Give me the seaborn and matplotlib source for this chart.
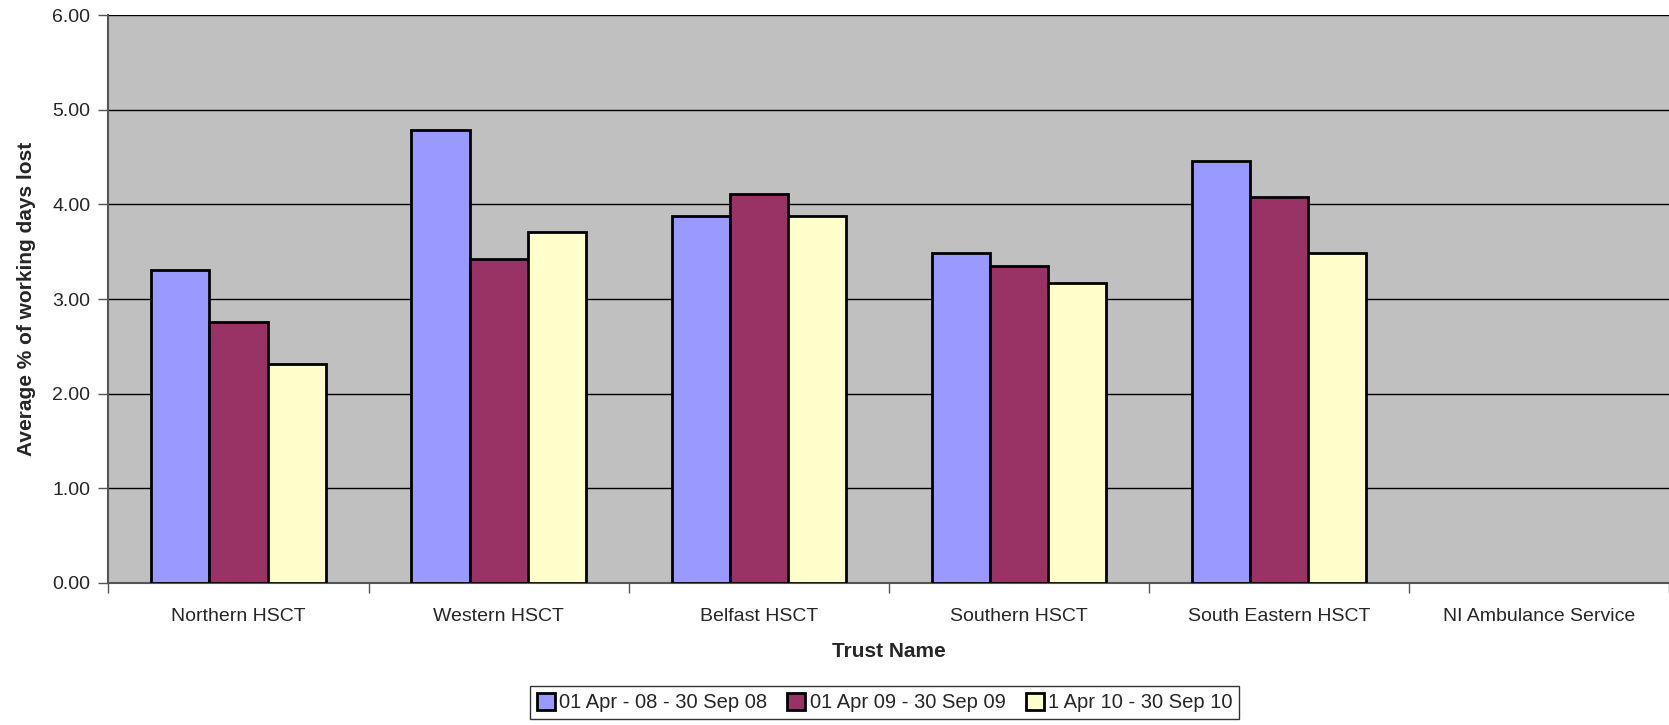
import pandas as pd
import numpy as np
import matplotlib
matplotlib.use('Agg')
import matplotlib.pyplot as plt
import seaborn as sns
from matplotlib.ticker import FixedLocator, FormatStrFormatter

# data
trusts = ['Northern HSCT', 'Western HSCT', 'Belfast HSCT', 'Southern HSCT',
          'South Eastern HSCT', 'NI Ambulance Service']
periods = ['01 Apr - 08 - 30 Sep 08', '01 Apr 09 - 30 Sep 09', '1 Apr 10 - 30 Sep 10']
apr08 = [3.31, 4.79, 3.88, 3.49, 4.46, np.nan]
apr09 = [2.76, 3.42, 4.11, 3.35, 4.08, np.nan]
apr10 = [2.31, 3.71, 3.88, 3.17, 3.49, np.nan]
colours = ['#9999FF', '#993366', '#FFFFCC']

df = pd.DataFrame({
    'trust': trusts * 3,
    'period': [periods[0]] * 6 + [periods[1]] * 6 + [periods[2]] * 6,
    'value': apr08 + apr09 + apr10,
})

sns.set_style('white')
plt.rcParams['font.family'] = ['Liberation Sans', 'DejaVu Sans']

fig = plt.figure(figsize=(16.69, 7.25), dpi=100)
ax = fig.add_axes([0.065, 0.196, 0.935, 0.783])
ax.set_facecolor('#C0C0C0')

sns.barplot(data=df, x='trust', y='value', hue='period', order=trusts,
            hue_order=periods, palette=colours, width=0.67, errorbar=None,
            edgecolor='black', linewidth=2, saturation=1, ax=ax, zorder=3)

ax.set_ylim(0, 6)
ax.set_xlim(-0.5, 5.5)
ax.set_yticks(np.arange(0, 7, 1))
ax.yaxis.set_major_formatter(FormatStrFormatter('%.2f'))
ax.grid(axis='y', color='black', linewidth=1, zorder=0)
ax.set_axisbelow(True)

# tick marks sit between categories
ax.xaxis.set_minor_locator(FixedLocator(np.arange(-0.5, 6, 1)))
ax.tick_params(axis='x', which='major', bottom=False, length=0, pad=18, labelsize=14)
ax.tick_params(axis='x', which='minor', bottom=True, length=7, width=1,
               color='#555555', direction='out')
ax.tick_params(axis='y', left=True, length=7, width=1, color='#555555',
               direction='out', pad=6, labelsize=14)

for s in ['top', 'right']:
    ax.spines[s].set_visible(False)
for s in ['left', 'bottom']:
    ax.spines[s].set_color('#555555')
    ax.spines[s].set_linewidth(1.5)

ax.set_xlabel('Trust Name', fontsize=15, fontweight='bold', labelpad=12)
ax.set_ylabel('Average % of working days lost', fontsize=15, fontweight='bold', labelpad=12)

handles, labels = ax.get_legend_handles_labels()
ax.get_legend().remove()
leg = fig.legend(handles, labels, loc='lower center', bbox_to_anchor=(0.530, -0.006),
                 ncol=3, fontsize=14.5, frameon=True, fancybox=False, edgecolor='black',
                 handlelength=0.9, handleheight=0.9, handletextpad=0.2,
                 columnspacing=1.0, borderpad=0.35)
leg.get_frame().set_linewidth(1)

plt.savefig('out.png', dpi=100)
plt.close()
